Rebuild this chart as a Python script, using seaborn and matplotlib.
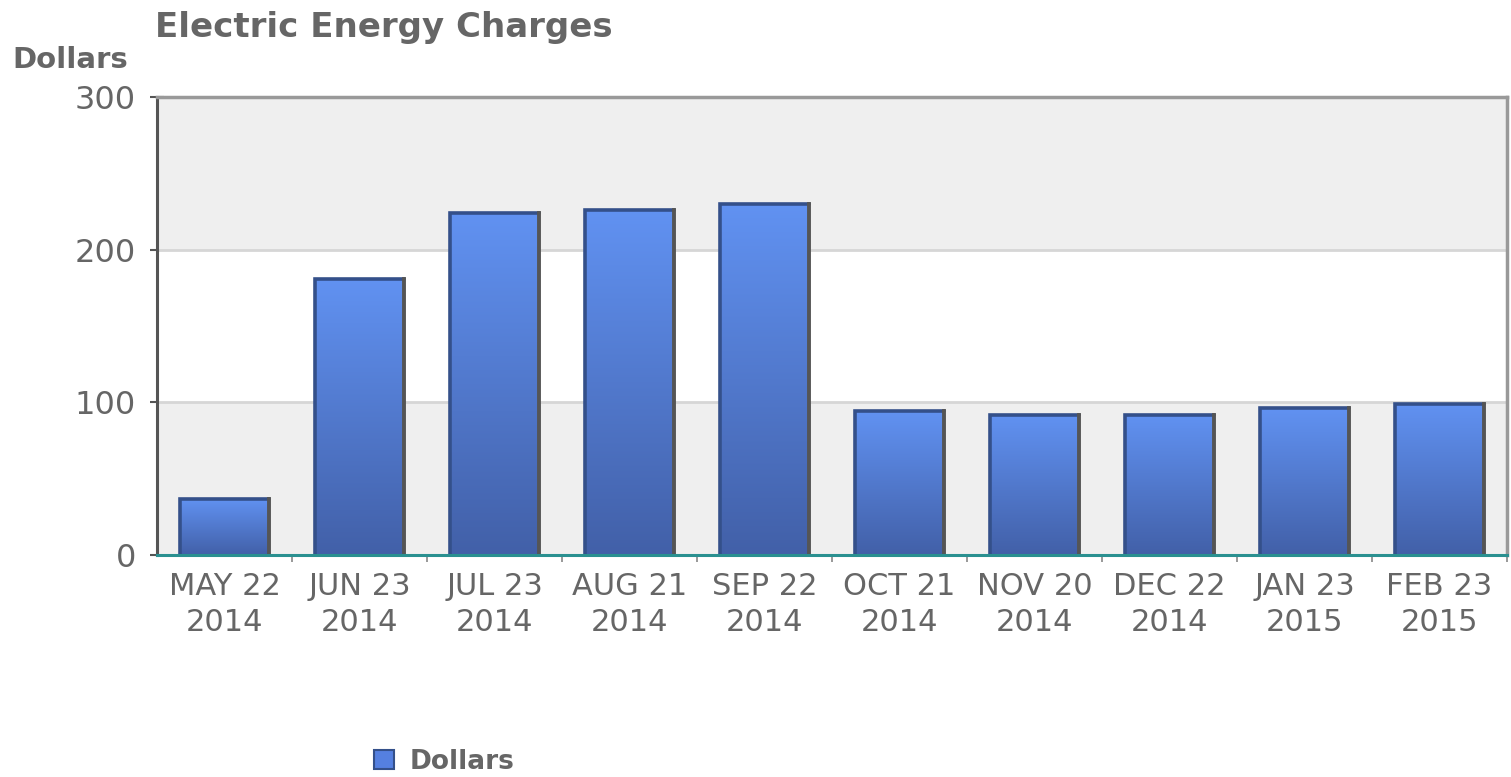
import numpy as np
import pandas as pd
import matplotlib
matplotlib.use("Agg")
import matplotlib.pyplot as plt
from matplotlib.colors import LinearSegmentedColormap
from matplotlib.patches import Patch
import seaborn as sns

# datos
dates = ["MAY 22", "JUN 23", "JUL 23", "AUG 21", "SEP 22",
         "OCT 21", "NOV 20", "DEC 22", "JAN 23", "FEB 23"]
years = ["2014", "2014", "2014", "2014", "2014",
         "2014", "2014", "2014", "2015", "2015"]
dollars = [37, 181, 224, 226, 230, 94, 92, 92, 96, 99]
y_ticks = [0, 100, 200, 300]

labels = [f"{d}\n{y}" for d, y in zip(dates, years)]
df = pd.DataFrame({"period": labels, "Dollars": dollars})

sns.set_theme(style="white")
plt.rcParams["font.family"] = ["DejaVu Sans"]

text_grey = "#666666"

fig = plt.figure(figsize=(15.11, 7.77), dpi=100)
ax = fig.add_axes([0.1039, 0.2857, 0.8935, 0.5895])
ax.set_facecolor("white")

sns.barplot(data=df, x="period", y="Dollars", color="#5580e0",
            width=0.66, ax=ax, zorder=3.2)
bars = list(ax.patches)

# bandas alternas del fondo: gris, blanco, gris (justo debajo de las barras)
xs = [-0.5, len(labels) - 0.5]
band_colors = ["#efefef", "#ffffff", "#efefef"]
for i, col in enumerate(band_colors):
    ax.fill_between(xs, y_ticks[i], y_ticks[i + 1], facecolor=col,
                    edgecolor="none", lw=0, zorder=2.8 + 0.02 * i)
for yv in y_ticks[1:-1]:
    ax.axhline(yv, color="#d6d6d6", lw=2, zorder=2.95)

# degradado en cada barra + bordes
cmap = LinearSegmentedColormap.from_list("bar", ["#4260a8", "#6192f2"])
grad = np.linspace(0, 1, 256).reshape(-1, 1)
for p in bars:
    x0, w, h = p.get_x(), p.get_width(), p.get_height()
    im = ax.imshow(grad, extent=[x0, x0 + w, 0, h], origin="lower",
                   aspect="auto", cmap=cmap, zorder=3.5)
    im.set_clip_path(p)
    ax.plot([x0, x0, x0 + w], [0, h, h], color="#34508a", lw=2.6,
            zorder=4.5, solid_joinstyle="miter")
    ax.plot([x0 + w, x0 + w], [0, h], color="#555555", lw=2.8, zorder=5,
            solid_capstyle="projecting")

ax.set_xlim(-0.5, len(labels) - 0.5)
ax.set_ylim(y_ticks[0], y_ticks[-1])
ax.set_yticks(y_ticks)
ax.set_xlabel("")
ax.set_ylabel("")

ax.set_xticks(np.arange(len(labels)) + 0.5, minor=True)
ax.tick_params(axis="x", which="major", length=0, pad=12,
               labelsize=22, labelcolor=text_grey)
ax.tick_params(axis="x", which="minor", length=10, width=1.2,
               color="#888888", direction="inout", bottom=True)
ax.tick_params(axis="y", length=10, width=1.5, color="#555555",
               direction="inout", left=True, labelsize=23,
               labelcolor=text_grey, pad=10)
for t in ax.get_xticklabels():
    t.set_linespacing(1.3)

ax.spines["left"].set_color("#555555")
ax.spines["left"].set_linewidth(2.2)
ax.spines["bottom"].set_color("#2a9090")
ax.spines["bottom"].set_linewidth(2.2)
ax.spines["bottom"].set_zorder(6)
for s in ("top", "right"):
    ax.spines[s].set_color("#999999")
    ax.spines[s].set_linewidth(2.5)
    ax.spines[s].set_zorder(6)
ax.spines["left"].set_zorder(6)

fig.text(155 / 1511, 1 - 28 / 777, "Electric Energy Charges",
         fontsize=24.5, fontweight="bold", color=text_grey, va="center")
fig.text(12 / 1511, 1 - 60 / 777, "Dollars", fontsize=21,
         fontweight="bold", color=text_grey, va="center")

handle = Patch(facecolor="#5580e0", edgecolor="#34508a", linewidth=1.5)
fig.legend([handle], ["Dollars"], loc="center left",
           bbox_to_anchor=(350 / 1511, 1 - 762 / 777), frameon=False,
           labelcolor=text_grey, handlelength=0.75,
           handleheight=0.75, handletextpad=0.6,
           prop={"weight": "bold", "size": 19})

fig.savefig("out.png", dpi=100)
